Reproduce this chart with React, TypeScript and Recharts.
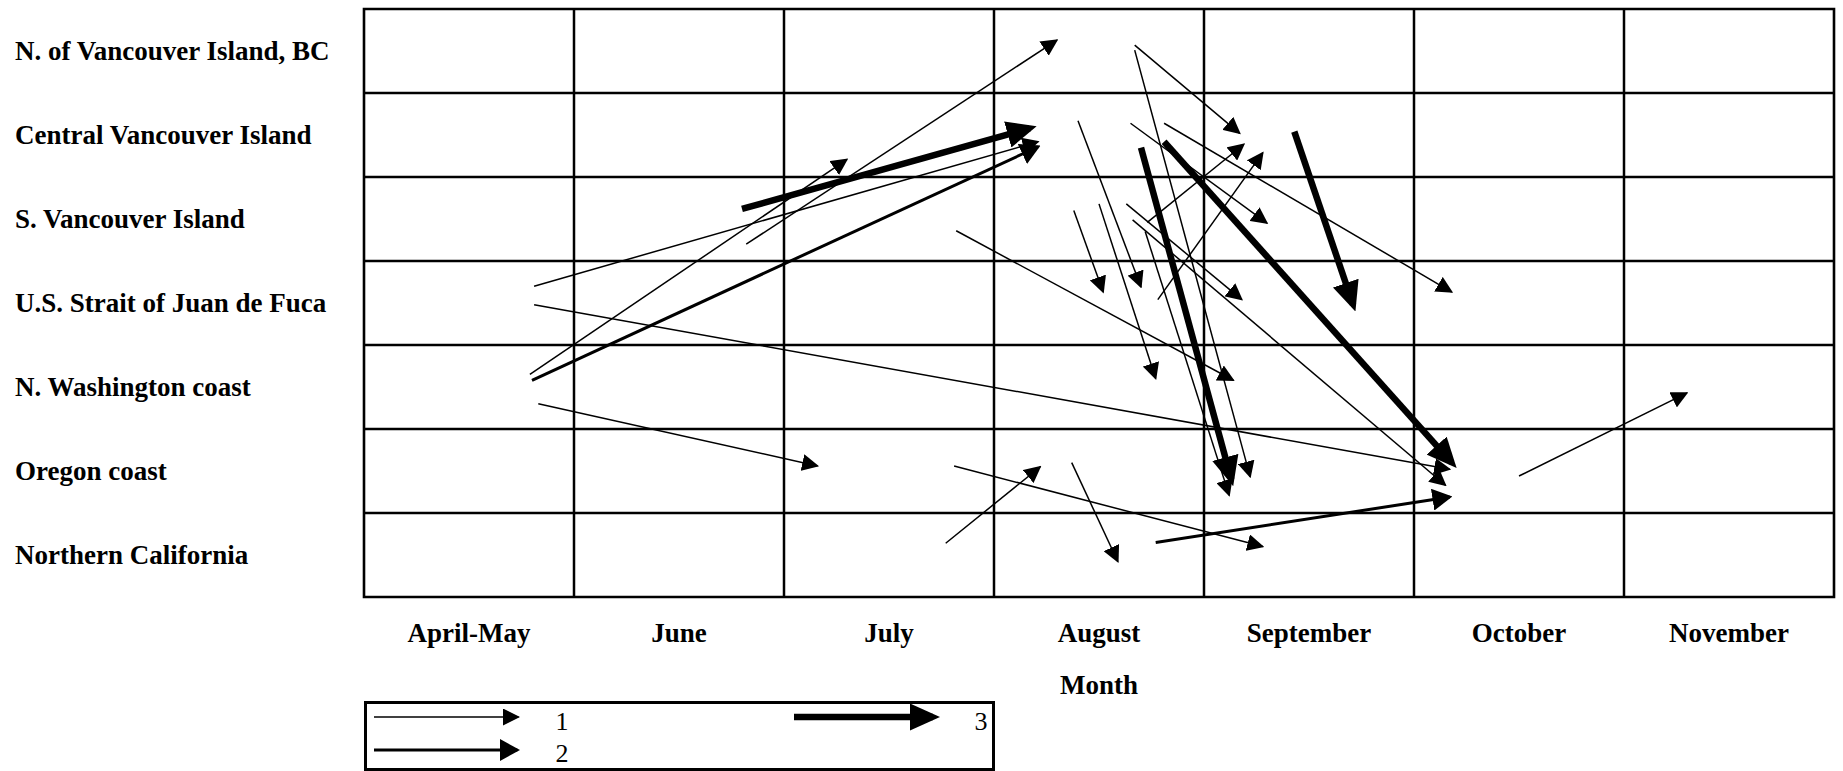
import { LineChart, Line, XAxis, YAxis, ReferenceArea, ReferenceLine } from 'recharts';

const months = ['April-May', 'June', 'July', 'August', 'September', 'October', 'November'];

const regions = [
  'N. of Vancouver Island, BC',
  'Central Vancouver Island',
  'S. Vancouver Island',
  'U.S. Strait of Juan de Fuca',
  'N. Washington coast',
  'Oregon coast',
  'Northern California',
];

// each arrow: [fromMonth, fromRegion, toMonth, toRegion], in grid cells (0 = left / top edge)
const arrows1 = [
  [0.81, 3.3, 3.21, 1.58],
  [0.79, 4.35, 2.3, 1.79],
  [0.81, 3.52, 5.17, 5.48],
  [0.83, 4.7, 2.16, 5.44],
  [1.82, 2.8, 3.3, 0.37],
  [2.82, 2.64, 4.14, 4.42],
  [3.67, 0.43, 4.17, 1.48],
  [3.67, 0.49, 4.22, 5.57],
  [3.4, 1.33, 3.7, 3.31],
  [3.38, 2.4, 3.52, 3.37],
  [3.5, 2.32, 3.77, 4.4],
  [3.65, 1.36, 4.3, 2.55],
  [3.81, 1.36, 5.18, 3.37],
  [3.73, 2.54, 4.19, 1.61],
  [3.78, 3.46, 4.28, 1.71],
  [3.63, 2.32, 4.18, 3.46],
  [3.66, 2.51, 5.15, 5.67],
  [3.72, 2.65, 4.12, 5.79],
  [3.37, 5.4, 3.59, 6.58],
  [2.81, 5.44, 4.28, 6.4],
  [2.77, 6.36, 3.22, 5.45],
  [5.5, 5.56, 6.3, 4.57],
];

const arrows2 = [
  [0.8, 4.42, 3.21, 1.64],
  [3.77, 6.35, 5.17, 5.81],
];

const arrows3 = [
  [1.8, 2.38, 3.17, 1.42],
  [3.81, 1.58, 5.18, 5.4],
  [3.7, 1.65, 4.13, 5.6],
  [4.43, 1.46, 4.71, 3.52],
];

const innerEdges = [1, 2, 3, 4, 5, 6];
const cellCenters = [0.5, 1.5, 2.5, 3.5, 4.5, 5.5, 6.5];

const FONT = '"Liberation Serif", "Times New Roman", serif';

// stroke width and arrowhead (length, width) per weight class
const styles: Record<number, { w: number; len: number; wid: number }> = {
  1: { w: 1.5, len: 17, wid: 17 },
  2: { w: 3, len: 20, wid: 22 },
  3: { w: 6.5, len: 30, wid: 27 },
};

function Heads() {
  return (
    <svg width={0} height={0} style={{ position: 'absolute' }}>
      <defs>
        {[1, 2, 3].map((k) => {
          const s = styles[k];
          const d = (s.w / 2) * (2 * s.len) / s.wid;
          return (
            <marker
              key={k}
              id={`head${k}`}
              markerUnits="userSpaceOnUse"
              markerWidth={s.len}
              markerHeight={s.wid}
              viewBox={`0 0 ${s.len} ${s.wid}`}
              refX={s.len - d}
              refY={s.wid / 2}
              orient="auto"
            >
              <path d={`M0,0 L${s.len},${s.wid / 2} L0,${s.wid} Z`} fill="#000" />
            </marker>
          );
        })}
      </defs>
    </svg>
  );
}

const series = [
  ...arrows1.map((a) => ({ a, k: 1 })),
  ...arrows2.map((a) => ({ a, k: 2 })),
  ...arrows3.map((a) => ({ a, k: 3 })),
];

function MonthTick(p: any) {
  return (
    <text x={p.x} y={p.y + 45} textAnchor="middle" fontFamily={FONT} fontWeight="bold" fontSize={27} fill="#000">
      {months[Math.floor(p.payload.value)]}
    </text>
  );
}

function RegionTick(p: any) {
  return (
    <text x={15} y={p.y + 9} textAnchor="start" fontFamily={FONT} fontWeight="bold" fontSize={27} fill="#000">
      {regions[Math.floor(p.payload.value)]}
    </text>
  );
}

function LegendBox() {
  const item = (k: number, x1: number, tip: number, y: number) => {
    const s = styles[k];
    const d = (s.w / 2) * (2 * s.len) / s.wid;
    return <line x1={x1} y1={y} x2={tip - d} y2={y} stroke="#000" strokeWidth={s.w} markerEnd={`url(#head${k})`} />;
  };
  const label = { fontFamily: FONT, fontSize: 26, fill: '#000', textAnchor: 'middle' as const };
  return (
    <svg width={631} height={70} style={{ position: 'absolute', left: 364, top: 701 }}>
      <rect x={1.5} y={1.5} width={628} height={67} fill="none" stroke="#000" strokeWidth={3} />
      {item(1, 10, 156, 16)}
      {item(2, 10, 156, 49)}
      {item(3, 430, 576, 16)}
      <text x={198} y={29} {...label}>1</text>
      <text x={198} y={61} {...label}>2</text>
      <text x={617} y={29} {...label}>3</text>
    </svg>
  );
}

export default function App() {
  return (
    <div style={{ position: 'absolute', left: 0, top: 0, width: 1843, height: 771, background: '#fff' }}>
      <Heads />
      <LineChart width={1843} height={771} margin={{ top: 9, right: 9, bottom: 0, left: 0 }}>
        <XAxis
          type="number"
          dataKey="x"
          domain={[0, 7]}
          ticks={cellCenters}
          interval={0}
          height={174}
          axisLine={false}
          tickLine={false}
          tickSize={0}
          tickMargin={0}
          tick={MonthTick}
          label={{
            content: (p: any) => {
              const vb = p.viewBox || {};
              return (
                <text
                  x={vb.x + vb.width / 2}
                  y={vb.y + 97}
                  textAnchor="middle"
                  fontFamily={FONT}
                  fontWeight="bold"
                  fontSize={27}
                  fill="#000"
                >
                  Month
                </text>
              );
            },
          }}
        />
        <YAxis
          type="number"
          domain={[0, 7]}
          reversed
          ticks={cellCenters}
          interval={0}
          width={364}
          axisLine={false}
          tickLine={false}
          tickSize={0}
          tickMargin={0}
          tick={RegionTick}
        />
        {innerEdges.map((v) => (
          <ReferenceLine key={`vx${v}`} x={v} stroke="#000" strokeWidth={2.5} />
        ))}
        {innerEdges.map((v) => (
          <ReferenceLine key={`hy${v}`} y={v} stroke="#000" strokeWidth={2.5} />
        ))}
        <ReferenceArea x1={0} x2={7} y1={0} y2={7} fill="none" stroke="#000" strokeWidth={2.6} ifOverflow="visible" />
        {series.map(({ a, k }, i) => (
          <Line
            key={i}
            data={[
              { x: a[0], y: a[1] },
              { x: a[2], y: a[3] },
            ]}
            dataKey="y"
            type="linear"
            stroke="#000"
            strokeWidth={styles[k].w}
            dot={false}
            activeDot={false}
            markerEnd={`url(#head${k})`}
            isAnimationActive={false}
          />
        ))}
      </LineChart>
      <LegendBox />
    </div>
  );
}
